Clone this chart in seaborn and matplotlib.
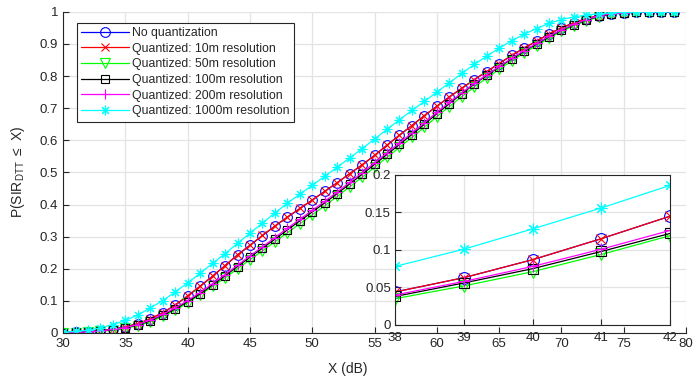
import numpy as np
import pandas as pd
import matplotlib
matplotlib.use("Agg")
import matplotlib.pyplot as plt
import seaborn as sns

# ---------------- data ----------------
x_db = list(range(30, 80))

no_quant = [0.001, 0.002, 0.004, 0.007, 0.012, 0.019, 0.029, 0.044, 0.063, 0.087,
            0.115, 0.145, 0.177, 0.210, 0.243, 0.273, 0.303, 0.333, 0.360, 0.387,
            0.414, 0.441, 0.468, 0.496, 0.523, 0.553, 0.585, 0.616, 0.646, 0.677,
            0.706, 0.735, 0.762, 0.789, 0.814, 0.839, 0.864, 0.887, 0.909, 0.931,
            0.950, 0.966, 0.979, 0.988, 0.994, 0.997, 0.999, 1.000, 1.000, 1.000]
q10 = [0.001, 0.002, 0.004, 0.007, 0.012, 0.019, 0.029, 0.044, 0.063, 0.087,
       0.116, 0.146, 0.177, 0.210, 0.243, 0.273, 0.304, 0.333, 0.361, 0.388,
       0.414, 0.441, 0.468, 0.496, 0.524, 0.553, 0.585, 0.616, 0.646, 0.677,
       0.706, 0.735, 0.762, 0.789, 0.814, 0.839, 0.864, 0.887, 0.909, 0.931,
       0.950, 0.966, 0.979, 0.988, 0.994, 0.997, 0.999, 1.000, 1.000, 1.000]
q50 = [0.001, 0.001, 0.003, 0.005, 0.009, 0.015, 0.023, 0.035, 0.052, 0.071,
       0.094, 0.119, 0.145, 0.172, 0.200, 0.228, 0.256, 0.284, 0.312, 0.340,
       0.368, 0.396, 0.425, 0.455, 0.485, 0.516, 0.547, 0.578, 0.609, 0.641,
       0.674, 0.705, 0.736, 0.766, 0.794, 0.821, 0.847, 0.872, 0.895, 0.918,
       0.939, 0.957, 0.972, 0.984, 0.992, 0.996, 0.998, 0.999, 1.000, 1.000]
q100 = [0.001, 0.002, 0.003, 0.006, 0.010, 0.016, 0.025, 0.038, 0.056, 0.075,
        0.098, 0.122, 0.150, 0.178, 0.207, 0.236, 0.264, 0.292, 0.321, 0.349,
        0.377, 0.405, 0.434, 0.464, 0.494, 0.525, 0.556, 0.587, 0.618, 0.650,
        0.683, 0.714, 0.745, 0.775, 0.802, 0.828, 0.853, 0.877, 0.900, 0.922,
        0.943, 0.960, 0.975, 0.986, 0.993, 0.997, 0.999, 1.000, 1.000, 1.000]
q200 = [0.001, 0.002, 0.004, 0.006, 0.011, 0.017, 0.026, 0.040, 0.058, 0.078,
        0.101, 0.126, 0.154, 0.182, 0.211, 0.240, 0.268, 0.297, 0.326, 0.354,
        0.382, 0.410, 0.439, 0.469, 0.499, 0.530, 0.561, 0.592, 0.623, 0.655,
        0.687, 0.718, 0.748, 0.777, 0.804, 0.830, 0.855, 0.879, 0.902, 0.924,
        0.944, 0.961, 0.976, 0.987, 0.994, 0.997, 0.999, 1.000, 1.000, 1.000]
q1000 = [0.003, 0.005, 0.009, 0.016, 0.026, 0.039, 0.056, 0.078, 0.101, 0.128,
         0.156, 0.186, 0.217, 0.247, 0.279, 0.311, 0.342, 0.374, 0.404, 0.432,
         0.460, 0.488, 0.516, 0.545, 0.574, 0.604, 0.634, 0.664, 0.693, 0.721,
         0.750, 0.779, 0.808, 0.836, 0.862, 0.887, 0.910, 0.930, 0.948, 0.964,
         0.976, 0.984, 0.990, 0.994, 0.997, 0.998, 0.999, 1.000, 1.000, 1.000]

# inset (zoomed) data
inset_x = [38, 39, 40, 41, 42]
inset_no_quant = [0.044, 0.063, 0.087, 0.115, 0.145]
inset_q10 = [0.044, 0.063, 0.087, 0.115, 0.145]
inset_q50 = [0.035, 0.052, 0.071, 0.094, 0.119]
inset_q100 = [0.038, 0.056, 0.075, 0.098, 0.122]
inset_q200 = [0.040, 0.058, 0.078, 0.101, 0.126]
inset_q1000 = [0.078, 0.101, 0.128, 0.156, 0.186]

labels = ["No quantization", "Quantized: 10m resolution", "Quantized: 50m resolution",
          "Quantized: 100m resolution", "Quantized: 200m resolution",
          "Quantized: 1000m resolution"]
x_ticks = [30, 35, 40, 45, 50, 55, 60, 65, 70, 75, 80]
y_ticks = [0, 0.1, 0.2, 0.3, 0.4, 0.5, 0.6, 0.7, 0.8, 0.9, 1]
y_ticklabels = ["0", "0.1", "0.2", "0.3", "0.4", "0.5", "0.6", "0.7", "0.8", "0.9", "1"]
inset_yticks = [0, 0.05, 0.1, 0.15, 0.2]
inset_yticklabels = ["0", "0.05", "0.1", "0.15", "0.2"]

# ---------------- style ----------------
sns.set_style("white")
plt.rcParams["font.family"] = ["Liberation Sans", "DejaVu Sans"]
plt.rcParams["mathtext.default"] = "regular"

colors = ["#0000ff", "#ff0000", "#00ff00", "#000000", "#ff00ff", "#00ffff"]
markers = ["o", "x", "v", "s", "+", (8, 2, 0)]
msizes = [7, 6, 7, 6, 7, 7]
axis_col = "#262626"
grid_col = "#e3e3e3"

main_series = [no_quant, q10, q50, q100, q200, q1000]
inset_series = [inset_no_quant, inset_q10, inset_q50, inset_q100, inset_q200, inset_q1000]

fig = plt.figure(figsize=(6.93, 3.81), dpi=100)
ax = fig.add_axes([0.091, 0.126, 0.899, 0.843])

for ys, lab, c, m, ms in zip(main_series, labels, colors, markers, msizes):
    df = pd.DataFrame({"x": x_db, "y": ys})
    sns.lineplot(data=df, x="x", y="y", ax=ax, color=c, marker=m, markersize=ms,
                 markerfacecolor="none", markeredgecolor=c, markeredgewidth=0.8,
                 linewidth=0.9, label=lab, legend=False)

ax.set_xlim(30, 80)
ax.set_ylim(0, 1)
ax.set_xticks(x_ticks)
ax.set_yticks(y_ticks)
ax.set_yticklabels(y_ticklabels)
ax.grid(True, color=grid_col, linewidth=0.9)
ax.set_axisbelow(True)
for s in ["top", "right"]:
    ax.spines[s].set_visible(False)
for s in ["left", "bottom"]:
    ax.spines[s].set_color(axis_col)
    ax.spines[s].set_linewidth(0.8)
ax.tick_params(direction="in", length=4, width=0.8, colors=axis_col, labelsize=9.5,
               labelcolor=axis_col, left=True, bottom=True)
ax.set_xlabel("X (dB)", fontsize=10, color=axis_col)
ax.xaxis.set_label_coords(0.457, -0.09)
ax.set_ylabel("P(SIR$_{DTT}$ $\\leq$ X)", fontsize=10, color=axis_col)
ax.yaxis.set_label_coords(-0.058, 0.5)

leg = ax.legend(loc="upper left", bbox_to_anchor=(0.022, 0.966), borderaxespad=0,
                fontsize=8.8, handlelength=3.9, labelspacing=0.3, handletextpad=0.3,
                borderpad=0.35, fancybox=False, framealpha=1, edgecolor=axis_col)
leg.get_frame().set_linewidth(0.8)

# ---------------- inset ----------------
axi = fig.add_axes([0.570, 0.147, 0.397, 0.394])
for ys, c, m, ms in zip(inset_series, colors, markers, msizes):
    df = pd.DataFrame({"x": inset_x, "y": ys})
    sns.lineplot(data=df, x="x", y="y", ax=axi, color=c, marker=m, markersize=ms + 1.5,
                 markerfacecolor="none", markeredgecolor=c, markeredgewidth=0.8,
                 linewidth=0.9, legend=False)
axi.set_xlim(38, 42)
axi.set_ylim(0, 0.2)
axi.set_xticks(inset_x)
axi.set_yticks(inset_yticks)
axi.set_yticklabels(inset_yticklabels)
axi.set_xlabel("")
axi.set_ylabel("")
axi.grid(True, color=grid_col, linewidth=0.9)
axi.set_axisbelow(True)
axi.set_facecolor("white")
for s in axi.spines.values():
    s.set_visible(True)
    s.set_color(axis_col)
    s.set_linewidth(0.8)
axi.tick_params(direction="in", length=4, width=0.8, colors=axis_col, labelsize=9.5,
                labelcolor=axis_col, left=True, bottom=True)
axi.tick_params(axis="x", pad=5)
axi.tick_params(axis="y", pad=3)

fig.savefig("out.png", dpi=100, facecolor="white")
